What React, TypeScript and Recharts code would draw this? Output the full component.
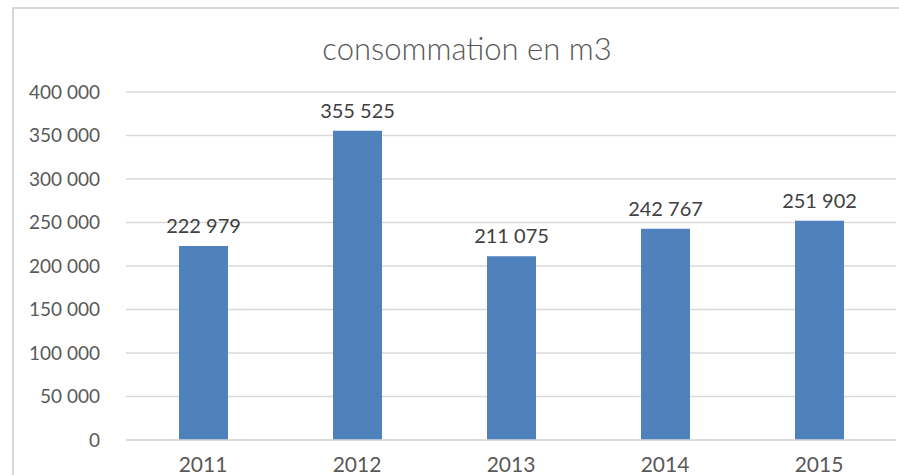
import { BarChart, Bar, XAxis, YAxis, CartesianGrid, LabelList } from 'recharts';

const years = ['2011', '2012', '2013', '2014', '2015'];
const consommation = [222979, 355525, 211075, 242767, 251902];
const yTicks = [0, 50000, 100000, 150000, 200000, 250000, 300000, 350000, 400000];

const chartData = years.map((year, i) => ({ year, value: consommation[i] }));

// 222979 -> "222 979" (no-break space so labels don't wrap)
const formatNumber = (v: number) => String(v).replace(/\B(?=(\d{3})+(?!\d))/g, '\u00a0');

const FONT = 'Lato, "Open Sans", sans-serif';

export default function App() {
  return (
    <div style={{ position: 'absolute', left: 0, top: 0, width: 899, height: 475, background: '#fff', overflow: 'hidden', fontFamily: FONT }}>
      {/* chart frame (only top and left edges are visible) */}
      <div style={{ position: 'absolute', left: 12, top: 7, width: 899, height: 475, borderLeft: '2px solid #d9d9d9', borderTop: '2px solid #d9d9d9' }} />

      <div style={{ position: 'absolute', left: 0, top: 29, width: 934, textAlign: 'center', fontSize: 31, fontWeight: 300, lineHeight: '38px', color: '#595959' }}>
        consommation en m3
      </div>

      <div style={{ position: 'absolute', left: 0, top: 0 }}>
        <BarChart width={899} height={475} data={chartData} margin={{ top: 92, right: 3, left: 0, bottom: 0 }}>
          <CartesianGrid vertical={false} stroke="#d9d9d9" strokeWidth={1.5} />
          <XAxis
            dataKey="year"
            height={35}
            axisLine={{ stroke: '#d9d9d9', strokeWidth: 1.5 }}
            tickLine={false}
            tickSize={0}
            tickMargin={17}
            tick={{ fontSize: 21, fill: '#595959', fontFamily: FONT }}
          />
          <YAxis
            width={126}
            domain={[0, 400000]}
            ticks={yTicks}
            axisLine={false}
            tickLine={false}
            tickSize={0}
            tickMargin={26}
            tickFormatter={formatNumber}
            tick={{ fontSize: 19, fill: '#595959', fontFamily: FONT }}
          />
          <Bar dataKey="value" fill="#4f81bd" barSize={49} isAnimationActive={false}>
            <LabelList
              dataKey="value"
              position="top"
              offset={13}
              formatter={(v: number) => formatNumber(v)}
              style={{ fontSize: 20, fill: '#404040', fontFamily: FONT }}
            />
          </Bar>
        </BarChart>
      </div>
    </div>
  );
}
